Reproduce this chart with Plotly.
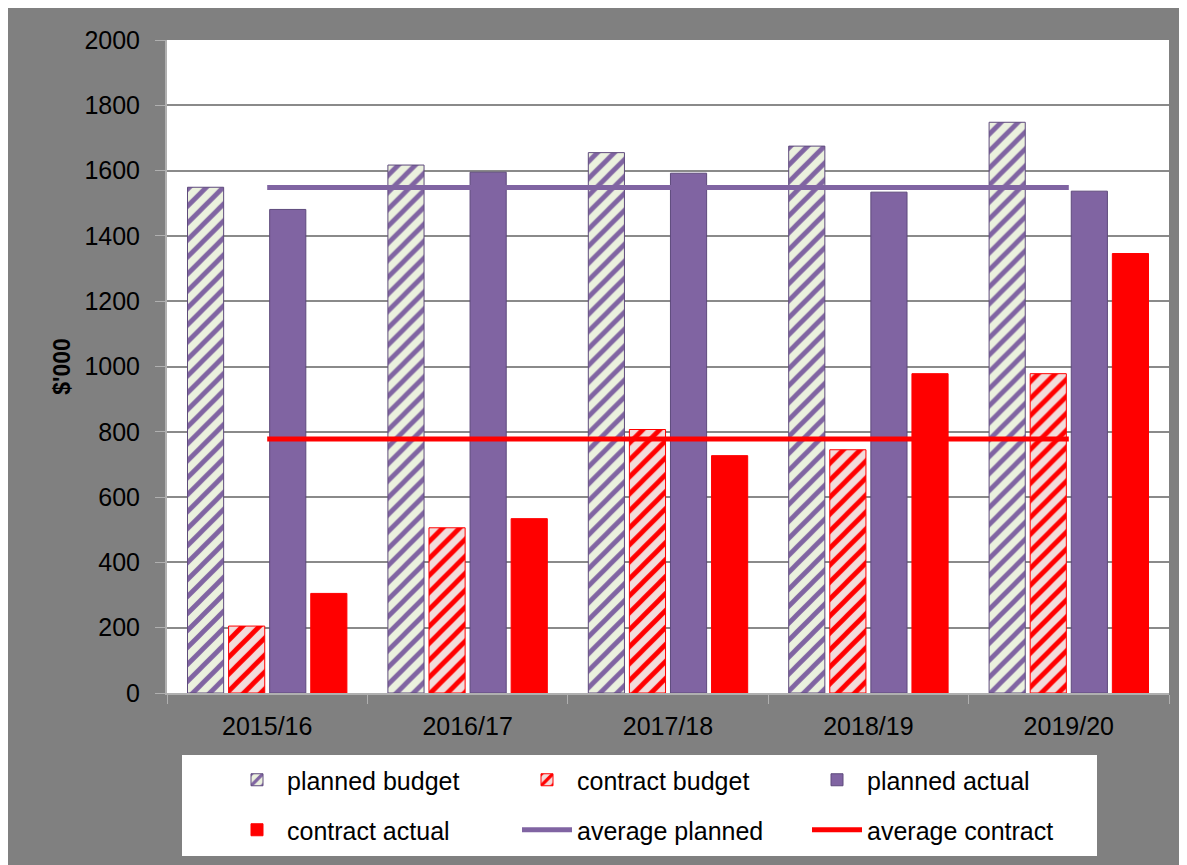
import plotly.graph_objects as go

years = ["2015/16", "2016/17", "2017/18", "2018/19", "2019/20"]
planned_budget = [1549, 1617, 1655, 1675, 1748]
contract_budget = [205, 506, 807, 745, 978]
planned_actual = [1481, 1595, 1592, 1534, 1537]
contract_actual = [305, 534, 727, 978, 1346]
average_planned = [1548, 1548, 1548, 1548, 1548]
average_contract = [778, 778, 778, 778, 778]

PURPLE = "#8064A2"
PURPLE_DARK = "#5E4A7C"
RED = "#FF0000"
FONT = "Liberation Sans, Arial, sans-serif"
FS = 25

# page offset (body margin) and plot area in figure pixels
OFF = 8
L, R, T, B = 159, 1161, 32, 685
W, H = R - L, B - T


def px_x(p):  # p: absolute screenshot pixel
    return (p - OFF - L) / W


def px_y(p):
    return (B - (p - OFF)) / H


fig = go.Figure()
fig.add_trace(go.Bar(
    x=years, y=planned_budget, name="planned budget", legend="legend",
    marker=dict(color="#EBF1DE", line=dict(color=PURPLE_DARK, width=1),
                pattern=dict(shape="/", fgcolor=PURPLE, bgcolor="#EBF1DE",
                             size=12, solidity=0.4, fillmode="replace")),
))
fig.add_trace(go.Bar(
    x=years, y=contract_budget, name="contract budget", legend="legend",
    marker=dict(color="#F2DCDB", line=dict(color=RED, width=1),
                pattern=dict(shape="/", fgcolor=RED, bgcolor="#F2DCDB",
                             size=12, solidity=0.4, fillmode="replace")),
))
fig.add_trace(go.Bar(
    x=years, y=planned_actual, name="planned actual", legend="legend",
    marker=dict(color=PURPLE, line=dict(color=PURPLE_DARK, width=1)),
))
fig.add_trace(go.Bar(
    x=years, y=contract_actual, name="contract actual", legend="legend2",
    marker=dict(color=RED, line=dict(color=RED, width=1)),
))
fig.add_trace(go.Scatter(
    x=years, y=average_planned, name="average planned", mode="lines",
    legend="legend2", line=dict(color=PURPLE, width=5),
))
fig.add_trace(go.Scatter(
    x=years, y=average_contract, name="average contract", mode="lines",
    legend="legend2", line=dict(color=RED, width=5),
))

legend_common = dict(
    orientation="h", xanchor="left", yanchor="middle",
    bgcolor="rgba(0,0,0,0)", borderwidth=0,
    font=dict(family=FONT, size=FS, color="black"),
    itemwidth=50, entrywidth=225, entrywidthmode="pixels",
    traceorder="normal", itemclick=False,
)

fig.update_layout(
    width=1187, height=865,
    margin=dict(l=L, r=1187 - R, t=T, b=865 - B),
    paper_bgcolor="#808080", plot_bgcolor="white",
    font=dict(family=FONT, size=FS, color="black"),
    barmode="group", bargap=0.18, bargroupgap=0.12,
    showlegend=True,
    legend=dict(x=px_x(227), y=px_y(780), **legend_common),
    legend2=dict(x=px_x(227), y=px_y(830), **legend_common),
    xaxis=dict(
        type="category", tickson="boundaries", ticks="outside", ticklen=9,
        tickcolor="#B0B0B0", showline=True, linecolor="#B0B0B0", linewidth=2,
        showgrid=False, tickfont=dict(family=FONT, size=FS, color="black"),
        ticklabelstandoff=10, fixedrange=True,
    ),
    yaxis=dict(
        range=[0, 2000], dtick=200, ticks="outside", ticklen=10,
        tickcolor="#B0B0B0", showline=True, linecolor="#B0B0B0", linewidth=2,
        showgrid=True, gridcolor="#8A8A8A", gridwidth=1.5, zeroline=False,
        tickfont=dict(family=FONT, size=FS, color="black"),
        ticklabelstandoff=10,
        title=dict(text="<b>$'000</b>", standoff=7,
                   font=dict(family=FONT, size=23, color="black")),
        fixedrange=True,
    ),
    shapes=[
        # legend white box
        dict(type="rect", xref="paper", yref="paper", layer="below",
             x0=px_x(182), x1=px_x(1097), y0=px_y(856), y1=px_y(755),
             fillcolor="white", line=dict(width=0)),
    ],
)

fig.write_html("out.html")
